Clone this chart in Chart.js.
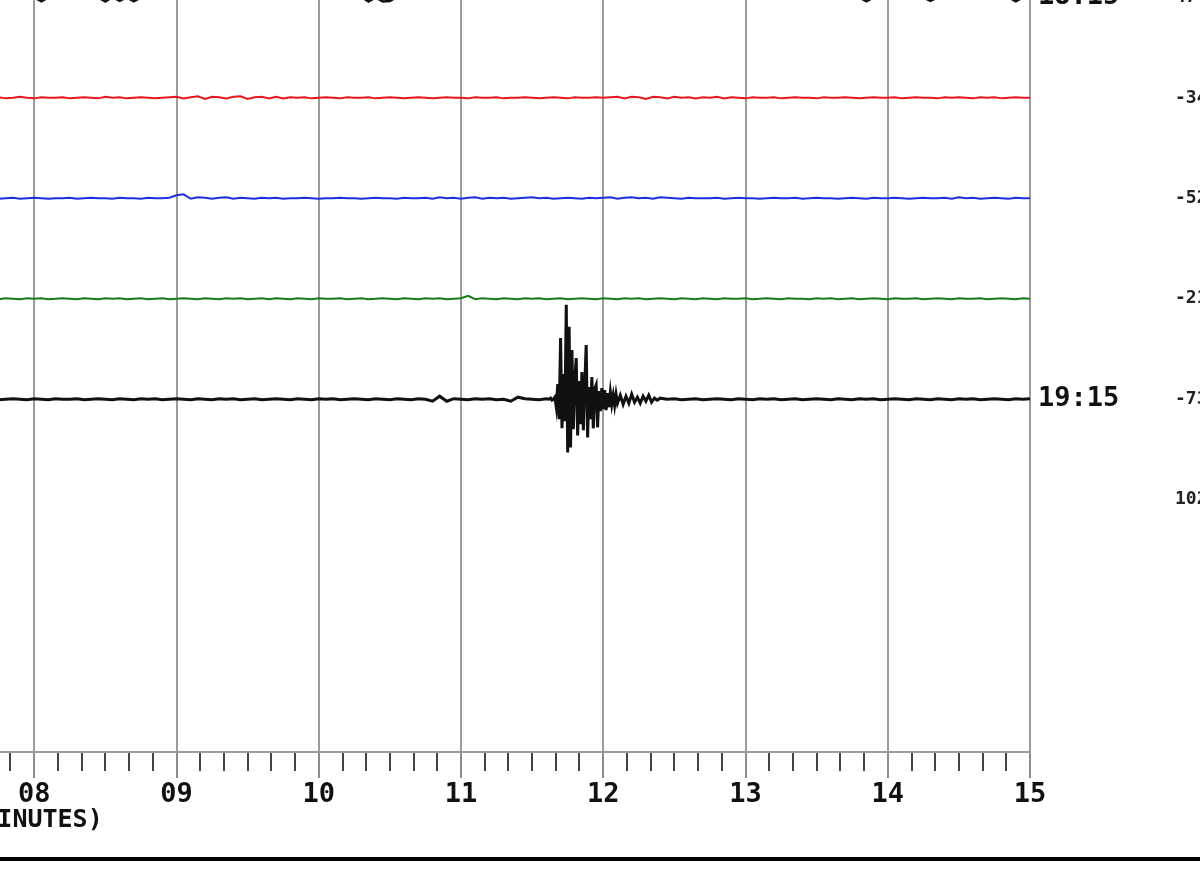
<!DOCTYPE html>
<html>
<head>
<meta charset="utf-8">
<title>Seismogram 18:15 - 19:15</title>
<script src="https://cdn.jsdelivr.net/npm/chart.js@4.4.1/dist/chart.umd.min.js"></script>
<style>
  html, body { margin: 0; padding: 0; background: #fff; overflow: hidden; width: 1200px; height: 876px; }
  #wrap { position: relative; width: 1200px; height: 876px; overflow: hidden; }
  #drum { position: absolute; left: -108px; top: -77px; }
  #rule { position: absolute; left: 0; top: 857px; width: 1200px; height: 4px; background: #000; }
</style>
</head>
<body>
<div id="wrap">
  <canvas id="drum" width="1362" height="934"></canvas>
  <div id="rule"></div>
</div>
<script>
// one drum line = 15 minutes, 200 counts between lines
const rowLabels = ['18:15', '', '', '', '19:15'];
const sideLabels = ['47', '-34', '-52', '-21', '-73', '102'];
const minuteLabels = ['08', '09', '10', '11', '12', '13', '14', '15'];

function span(a, b, step) {
  const n = Math.round((b - a) / step);
  const out = [];
  for (let k = 0; k <= n; k++) out.push(+(a + k * step).toFixed(3));
  return out;
}

// sample clock (minutes), finer where the event is
const traceTimes = span(7.70, 15.00, 0.05);
const blackTimes = [].concat(span(7.70, 11.60, 0.05), span(11.62, 12.10, 0.01), span(12.12, 12.40, 0.02), span(12.45, 15.00, 0.05));

// counts
const line1815 = [
  0, 1, 0, -1, 0, 1, 0, -8, 0, -1, 1, 0, 1, 0, -1, 0, -8, 1, -7, 0,
  -8, 0, 1, 0, -1, 0, 1, 0, -1, 0, 1, 0, 0, -1, 1, 0, -1, 0, 1, 0,
  1, 0, -1, 0, 1, 0, -1, 0, 1, 0, 0, -1, 1, -8, 0, -8, -7, 1, 0, -1,
  0, 1, 0, -1, 0, 1, 0, -1, 0, 1, 0, -1, 1, 0, -1, 0, 1, 0, -1, 0,
  1, 0, -1, 0, 1, 0, 0, -1, 1, 0, -1, 0, 1, 0, -1, 0, 1, 0, 0, -1,
  0, 1, 0, -1, 0, 1, 0, -1, 0, 1, 0, 0, -1, 1, 0, -1, 0, 1, 0, -1,
  0, 1, 0, -8, 0, -1, 1, 0, 0, -1, 1, 0, -7, 0, 1, 0, -1, 0, 1, 0,
  -1, 0, 1, 0, -8, 0, 0
];
const line1830 = [
  0, 1, -1, 0, 2, 0, -1, 1, 0, 0, 1, -1, 0, 1, 0, -1, 2, 0, 1, -1,
  0, 1, 0, -1, 0, 1, 2, -1, 1, 3, -2, 2, 1, -1, 2, 3, -2, 1, 2, -1,
  2, -1, 1, 0, 1, -1, 0, 1, 0, -1, 1, 0, 0, 1, -1, 0, 1, 0, -1, 0,
  1, 0, -1, 0, 1, 0, 0, -1, 1, 0, 0, 1, -1, 0, 0, 1, 0, -1, 0, 1,
  0, -1, 1, 0, 0, 1, 0, 1, 2, -1, 2, 1, -2, 2, 1, -1, 2, 0, 1, -1,
  1, 0, 2, -1, 1, 0, -1, 1, 0, 0, 1, -1, 0, 1, 0, 0, -1, 1, 0, 0,
  1, 0, -1, 0, 1, 0, 0, 1, -1, 0, 1, 0, 0, -1, 1, 0, 1, 0, -1, 1,
  0, 1, -1, 0, 1, 0, 0
];
const line1845 = [
  1, -1, 0, 1, -1, 0, 1, 0, -1, 0, 0, 1, -1, 0, 1, 0, 0, -1, 1, 0,
  0, -1, 1, 0, 0, 1, 6, 8, -1, 2, 1, -1, 1, 2, -1, 1, 0, -1, 1, 0,
  1, -1, 0, 0, 1, 0, -1, 0, 0, 1, 0, 0, -1, 0, 1, 0, 0, -1, 1, 0,
  0, 1, -1, 2, 0, 1, -1, 1, 2, -1, 1, 0, 1, -1, 0, 1, 2, 0, 1, -1,
  0, 1, 0, -1, 1, 0, 1, 2, -1, 1, 2, 0, 1, -1, 2, 1, 0, -1, 1, 0,
  0, 0, 1, -1, 0, 1, 0, 0, -1, 0, 1, 0, 0, 1, -1, 0, 1, 0, 0, -1,
  0, 1, 0, -1, 1, 0, 0, 1, 0, -1, 0, 1, 0, 0, 1, -1, 2, 0, 1, -1,
  0, 1, 0, -1, 1, 0, 0
];
const line1900 = [
  1, -1, 1, 0, -1, 1, 0, 1, -1, 0, 1, 0, -1, 1, 0, -1, 1, 0, 1, -1,
  0, 1, -1, 0, 1, -1, 0, 1, 0, -1, 1, 0, -1, 1, 0, 1, -1, 0, 1, -1,
  1, 0, -1, 1, 0, -1, 1, 0, 0, 1, -1, 0, 1, -1, 0, 1, 0, -1, 1, 0,
  -1, 1, 0, 1, -1, 0, 1, 6, -1, 1, 0, -1, 1, 0, -1, 1, 0, 1, -1, 0,
  1, -1, 0, 1, 0, -1, 1, 0, -1, 1, 0, 1, -1, 0, 1, 0, -1, 1, 0, -1,
  1, 0, -1, 1, 0, 0, 1, -1, 0, 1, 0, -1, 1, 0, 0, -1, 1, 0, 1, -1,
  0, 1, -1, 0, 1, 0, -1, 1, 0, 0, 1, -1, 0, 1, 0, -1, 1, 0, 0, 1,
  -1, 0, 1, 0, -1, 1, 0
];
const line1915 = [
  // 7.70 - 11.60
  1, -1, 0, 1, 0, -1, 1, 0, -1, 1, 0, 0, 1, -1, 0, 1, 0, -1, 1, 0,
  -1, 1, 0, 1, -1, 0, 1, 0, -1, 1, 0, -1, 1, 0, 1, -1, 0, 1, -1, 0,
  1, 0, -1, 1, 0, -1, 1, 0, 1, -1, 0, 1, 0, -1, 1, 0, -1, 1, 0, -1,
  1, 0, -4, 6, -4, 1, 0, -1, 1, 0, 1, -1, 0, -4, 4, 1, 0, -1, 1,
  // 11.62 - 12.10 (event)
  0, 2, -2, 0, 4, -16, 30, -40, 122, -58, 50, -44, 188, -106, 144, -96, 98, -60, 40, 82,
  -72, 36, -50, 54, -62, 30, 108, -76, 24, -40, 44, -58, 20, 28, -56, 16, -24, 22, -20, 18,
  -22, 12, -16, 14, -10, 8, -12, 10, -8,
  // 12.12 - 12.40
  8, -10, 6, -8, 10, -6, 4, -8, 6, -4, 8, -6, 2, -2, 2,
  // 12.45 - 15.00
  0, 1, -1, 0, 1, -1, 0, 1, 0, -1, 1, 0, -1, 1, 0, 1, -1, 0, 1, -1,
  0, 1, 0, -1, 1, 0, -1, 1, 0, 1, -1, 0, 1, 0, -1, 1, 0, -1, 1, 0,
  -1, 1, 0, 1, -1, 0, 1, 0, -1, 1, 0, 1
];

const isMinute = v => Math.abs(v - Math.round(v)) < 1e-6;
const toRow = (times, counts, row) => counts.map((c, i) => ({ x: times[i], y: row - c / 200 }));

const mono = '"DejaVu Sans Mono", "Liberation Mono", monospace';
const canvas = document.getElementById('drum');

function makeConfig() {
  return {
    type: 'line',
    data: {
      datasets: [
        { label: '18:15', data: toRow(traceTimes, line1815, 0), borderColor: '#111', borderWidth: 2.5 },
        { label: '18:30', data: toRow(traceTimes, line1830, 1), borderColor: '#e8171b', borderWidth: 2 },
        { label: '18:45', data: toRow(traceTimes, line1845, 2), borderColor: '#1f2fe0', borderWidth: 2 },
        { label: '19:00', data: toRow(traceTimes, line1900, 3), borderColor: '#1a7a1a', borderWidth: 2 },
        { label: '19:15', data: toRow(blackTimes, line1915, 4), borderColor: '#111', borderWidth: 3 }
      ]
    },
    options: {
      responsive: false,
      maintainAspectRatio: false,
      animation: false,
      devicePixelRatio: 1,
      layout: { padding: 0 },
      elements: { point: { radius: 0 }, line: { tension: 0 } },
      plugins: { legend: { display: false }, tooltip: { enabled: false } },
      scales: {
        x: {
          type: 'linear',
          position: 'bottom',
          min: 7,
          max: 15,
          afterBuildTicks: s => { s.ticks = span(7, 15, 1 / 6).map(v => ({ value: v })); },
          afterFit: s => { s.height = 105; },
          grid: {
            color: c => isMinute(c.tick.value) ? '#9c9c9c' : 'rgba(0,0,0,0)',
            lineWidth: 2,
            tickLength: 26,
            tickColor: c => isMinute(c.tick.value) ? '#8c8c8c' : '#444',
            tickWidth: 2,
            tickBorderDash: c => isMinute(c.tick.value) ? [] : [18, 60]
          },
          border: { display: true, color: '#9c9c9c', width: 2 },
          ticks: {
            autoSkip: false,
            maxRotation: 0,
            padding: 1,
            color: '#111',
            font: { family: mono, size: 27, weight: 'bold' },
            callback: v => isMinute(v) ? (minuteLabels[Math.round(v) - 8] || '') : ''
          },
          title: {
            display: true,
            text: 'TIME (MINUTES)',
            align: 'start',
            color: '#111',
            padding: { top: 0, bottom: 22 },
            font: { family: mono, size: 25, weight: 'bold' }
          }
        },
        y: {
          type: 'linear',
          position: 'right',
          weight: 0,
          reverse: true,
          min: -0.5,
          max: 7.5125,
          afterBuildTicks: s => { s.ticks = rowLabels.map((_, i) => ({ value: i })); },
          afterFit: s => { s.width = 137; },
          grid: { display: false },
          border: { display: false },
          ticks: {
            padding: 0,
            color: '#111',
            font: { family: mono, size: 27, weight: 'bold' },
            callback: (v, i) => rowLabels[i]
          }
        },
        y2: {
          type: 'linear',
          position: 'right',
          weight: 1,
          reverse: true,
          min: -0.5,
          max: 7.5125,
          afterBuildTicks: s => { s.ticks = sideLabels.map((_, i) => ({ value: i })); },
          afterFit: s => { s.width = 80; },
          grid: { display: false },
          border: { display: false },
          ticks: {
            padding: 0,
            color: '#222',
            font: { family: mono, size: 18, weight: 'bold' },
            callback: (v, i) => sideLabels[i]
          }
        }
      }
    }
  };
}

// 8 minutes over 1138 px, 8.0125 drum lines over 805 px; resize once if the layout misses
let chart = new Chart(canvas, makeConfig());
let area = chart.chartArea;
const dw = Math.round(1138 - (area.right - area.left));
const dh = Math.round(805 - (area.bottom - area.top));
if (dw || dh) {
  const w = chart.width + dw, h = chart.height + dh;
  chart.destroy();
  canvas.width = w;
  canvas.height = h;
  chart = new Chart(canvas, makeConfig());
  area = chart.chartArea;
}

// put minute 08 and the 18:15 line where the drum crop has them
canvas.style.left = Math.round(-108 - area.left) + 'px';
canvas.style.top = Math.round(-53 - area.top) + 'px';
</script>
</body>
</html>
